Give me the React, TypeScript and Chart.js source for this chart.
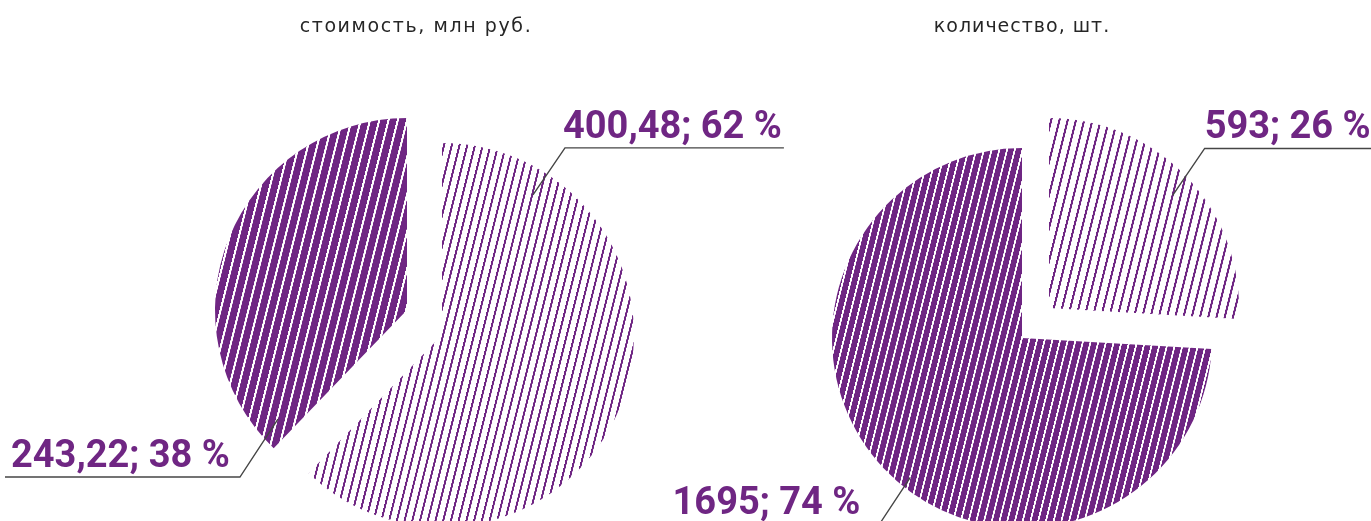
import React, { useEffect, useRef } from 'react';
import { Chart, registerables } from 'chart.js';

Chart.register(...registerables);

// ---- data ----
const chartTitles = ['стоимость, млн руб.', 'количество, шт.'];
const sliceNames = ['группа 1', 'группа 2']; // dark slice, light slice
const costValues = [243.22, 400.48];
const countValues = [1695, 593];
const valueDecimals = [2, 0];

// ---- style ----
const PURPLE = '#6f2683';
const W = 1371;
const H = 600;

type LabelCfg = { angle: number; rFrac: number; elbow: [number, number]; side: 'left' | 'right'; gap: number };
type PieCfg = {
  title: string;
  titleSpacing: number;
  values: number[];
  decimals: number;
  padding: { left: number; right: number; top: number; bottom: number };
  shifts: [number, number][];
  stripes: { bg: string | null; fg: string; spacing: number; lineW: number }[];
  labels: LabelCfg[];
};

const pies: PieCfg[] = [
  {
    title: chartTitles[0],
    titleSpacing: 1.6,
    values: costValues,
    decimals: valueDecimals[0],
    padding: { left: 224, right: 763, top: 118, bottom: 98 },
    shifts: [[-9, 0], [26, 25]],
    stripes: [
      { bg: PURPLE, fg: '#ffffff', spacing: 9, lineW: 2.1 },
      { bg: null, fg: PURPLE, spacing: 7.5, lineW: 2 },
    ],
    labels: [
      { angle: 229.8, rFrac: 0.88, elbow: [-38, 58], side: 'left', gap: 10 },
      { angle: 33, rFrac: 0.87, elbow: [32, -47], side: 'right', gap: -2 },
    ],
  },
  {
    title: chartTitles[1],
    titleSpacing: 1,
    values: countValues,
    decimals: valueDecimals[1],
    padding: { left: 832, right: 159, top: 148, bottom: 72 },
    shifts: [[0, 0], [27, -30]],
    stripes: [
      { bg: PURPLE, fg: '#ffffff', spacing: 7.5, lineW: 1.8 },
      { bg: null, fg: PURPLE, spacing: 8, lineW: 2.1 },
    ],
    labels: [
      { angle: 218.7, rFrac: 0.94, elbow: [-31, 47], side: 'left', gap: 19 },
      { angle: 47.7, rFrac: 0.88, elbow: [32, -47], side: 'right', gap: 0 },
    ],
  },
];

const STRIPE_ANGLE = 14;

function stripePattern(ctx: CanvasRenderingContext2D, s: { bg: string | null; fg: string; spacing: number; lineW: number }) {
  const S = 40;
  const c = document.createElement('canvas');
  c.width = S;
  c.height = 4;
  const x = c.getContext('2d')!;
  if (s.bg) {
    x.fillStyle = s.bg;
    x.fillRect(0, 0, S, 4);
  }
  x.fillStyle = s.fg;
  x.fillRect(0, 0, (s.lineW * S) / s.spacing, 4);
  const p = ctx.createPattern(c, 'repeat')!;
  p.setTransform(new DOMMatrix().rotateSelf(STRIPE_ANGLE).scaleSelf(s.spacing / S, 1));
  return p;
}

function fmt(v: number, d: number) {
  return d > 0 ? v.toFixed(d).replace('.', ',') : String(Math.round(v));
}

function makePlugins(cfg: PieCfg) {
  const shiftPlugin = {
    id: 'sliceShift',
    afterDatasetsUpdate(chart: any) {
      const meta = chart.getDatasetMeta(0);
      meta.data.forEach((el: any, i: number) => {
        const s = cfg.shifts[i] || [0, 0];
        el.x += s[0];
        el.y += s[1];
      });
    },
  };
  const labelPlugin = {
    id: 'sliceLabels',
    afterDatasetsDraw(chart: any) {
      const ctx: CanvasRenderingContext2D = chart.ctx;
      const meta = chart.getDatasetMeta(0);
      const vals = chart.data.datasets[0].data as number[];
      const total = vals.reduce((a, b) => a + b, 0);
      ctx.save();
      meta.data.forEach((el: any, i: number) => {
        const lab = cfg.labels[i];
        const a = ((lab.angle - 90) * Math.PI) / 180;
        const r = el.outerRadius * lab.rFrac;
        const ax = el.x + Math.cos(a) * r;
        const ay = el.y + Math.sin(a) * r;
        const ex = ax + lab.elbow[0];
        const ey = ay + lab.elbow[1];
        const text = `${fmt(vals[i], cfg.decimals)}; ${Math.round((vals[i] / total) * 100)} %`;
        ctx.font = 'bold 38px Roboto, "DejaVu Sans", sans-serif';
        const w = ctx.measureText(text).width;
        let tx: number;
        let lineEnd: number;
        if (lab.side === 'right') {
          tx = ex + lab.gap;
          ctx.textAlign = 'left';
          lineEnd = tx + w + 2;
        } else {
          tx = ex - lab.gap;
          ctx.textAlign = 'right';
          lineEnd = tx - w - 6;
        }
        ctx.strokeStyle = '#454545';
        ctx.lineWidth = 1.4;
        ctx.beginPath();
        ctx.moveTo(ax, ay);
        ctx.lineTo(ex, ey);
        ctx.lineTo(lineEnd, ey);
        ctx.stroke();
        ctx.fillStyle = PURPLE;
        ctx.textBaseline = 'alphabetic';
        ctx.fillText(text, tx, ey - 10);
      });
      ctx.restore();
    },
  };
  const titlePlugin = {
    id: 'pieTitle',
    afterDraw(chart: any) {
      const ctx: any = chart.ctx;
      const ca = chart.chartArea;
      ctx.save();
      ctx.font = '19px "DejaVu Sans", sans-serif';
      ctx.letterSpacing = cfg.titleSpacing + 'px';
      ctx.fillStyle = '#262626';
      ctx.textAlign = 'center';
      ctx.textBaseline = 'alphabetic';
      ctx.fillText(cfg.title, (ca.left + ca.right) / 2, 32);
      ctx.letterSpacing = '0px';
      ctx.restore();
    },
  };
  return [shiftPlugin, labelPlugin, titlePlugin];
}

export default function App() {
  const refA = useRef<HTMLCanvasElement>(null);
  const refB = useRef<HTMLCanvasElement>(null);

  useEffect(() => {
    const canvases = [refA.current!, refB.current!];
    const charts = pies.map((cfg, k) => {
      const canvas = canvases[k];
      const ctx = canvas.getContext('2d')!;
      const total = cfg.values.reduce((a, b) => a + b, 0);
      return new Chart(canvas, {
        type: 'pie',
        data: {
          labels: sliceNames,
          datasets: [
            {
              data: cfg.values,
              backgroundColor: cfg.stripes.map((s) => stripePattern(ctx, s)),
              borderWidth: 0,
              hoverOffset: 0,
            },
          ],
        },
        options: {
          responsive: false,
          animation: false,
          events: [],
          rotation: (-360 * cfg.values[0]) / total,
          layout: { padding: cfg.padding },
          plugins: {
            legend: { display: false },
            tooltip: { enabled: false },
            title: { display: false },
          },
        } as any,
        plugins: makePlugins(cfg) as any,
      });
    });
    return () => charts.forEach((c) => c.destroy());
  }, []);

  return (
    <div
      style={{
        position: 'fixed',
        left: 0,
        top: 0,
        width: W,
        height: 521,
        overflow: 'hidden',
        background: '#ffffff',
      }}
    >
      <canvas ref={refA} width={W} height={H} style={{ position: 'absolute', left: 0, top: 0 }} />
      <canvas ref={refB} width={W} height={H} style={{ position: 'absolute', left: 0, top: 0 }} />
    </div>
  );
}
